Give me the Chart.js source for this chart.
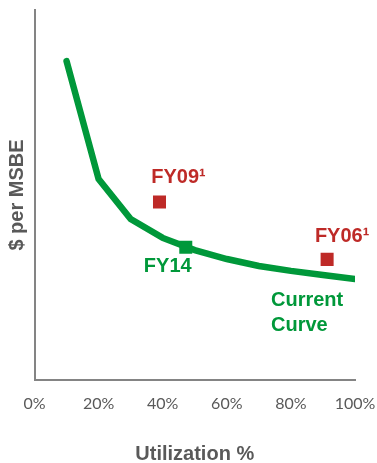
<!DOCTYPE html>
<html>
<head>
<meta charset="utf-8">
<style>
  html, body { margin: 0; padding: 0; background: #ffffff; }
  #wrap { width: 377px; height: 463px; }
</style>
<script src="https://cdn.jsdelivr.net/npm/chart.js@4/dist/chart.umd.min.js"></script>
</head>
<body>
<div id="wrap"><canvas id="chart" width="377" height="463"></canvas></div>
<script>
// Cost curve: $ per MSBE (relative units) against utilization %
const utilization = [10, 20, 30, 40, 50, 60, 70, 80, 90, 100];
const costPerMsbe = [86.2, 54.3, 43.5, 38.4, 35.1, 32.7, 30.8, 29.5, 28.4, 27.3];

// Single-year observations
const fy14Point = { x: 47.2, y: 35.9 };
const priorYears = ['FY09\u00B9', 'FY06\u00B9'];
const priorUtilization = [39, 91.3];
const priorCost = [48.1, 32.6];

// Axis tick values and titles
const xTicks = [0, 20, 40, 60, 80, 100];
const xTitle = 'Utilization %';
const yTitle = '$ per MSBE';
const curveLabel = ['Current', 'Curve'];

const GREEN = '#00983A';
const RED = '#BE2A27';
const GREY_TEXT = '#595959';
const AXIS_GREY = '#848484';
const LABEL_FONT = 'bold 20px "Liberation Sans", Arial, sans-serif';

// Draws the point annotations next to their markers
const annotationPlugin = {
  id: 'pointAnnotations',
  afterDatasetsDraw(chart) {
    const ctx = chart.ctx;
    ctx.save();
    ctx.font = LABEL_FONT;
    ctx.textBaseline = 'alphabetic';

    // prior-year labels above-right of each red square
    const prior = chart.getDatasetMeta(2).data;
    const priorOffsets = [[19, -26], [15, -25]];
    ctx.fillStyle = RED;
    ctx.textAlign = 'center';
    prior.forEach((pt, i) => {
      ctx.fillText(priorYears[i], pt.x + priorOffsets[i][0], pt.y + priorOffsets[i][1] + 7.2);
    });

    // FY14 label below-left of the green square
    const fy14 = chart.getDatasetMeta(1).data[0];
    ctx.fillStyle = GREEN;
    ctx.fillText('FY14', fy14.x - 18, fy14.y + 18 + 7.2);

    // curve name under the right end of the line
    const curve = chart.getDatasetMeta(0).data;
    const end = curve[curve.length - 1];
    ctx.textAlign = 'left';
    curveLabel.forEach((line, i) => {
      ctx.fillText(line, end.x - 84, end.y + 20 + i * 25 + 7.2);
    });
    ctx.restore();
  }
};

new Chart(document.getElementById('chart'), {
  type: 'scatter',
  data: {
    datasets: [
      {
        type: 'line',
        data: utilization.map((u, i) => ({ x: u, y: costPerMsbe[i] })),
        borderColor: GREEN,
        borderWidth: 6.5,
        borderCapStyle: 'round',
        borderJoinStyle: 'miter',
        pointRadius: 0,
        tension: 0,
        fill: false,
        order: 3
      },
      {
        data: [fy14Point],
        pointStyle: 'rect',
        pointRadius: 9.2,
        backgroundColor: GREEN,
        borderWidth: 0,
        order: 1
      },
      {
        data: priorUtilization.map((u, i) => ({ x: u, y: priorCost[i] })),
        pointStyle: 'rect',
        pointRadius: 9.2,
        backgroundColor: RED,
        borderWidth: 0,
        order: 2
      }
    ]
  },
  options: {
    responsive: false,
    devicePixelRatio: 1,
    animation: false,
    events: [],
    layout: { padding: { top: 10, right: 22, left: 0, bottom: 0 } },
    plugins: { legend: { display: false }, tooltip: { enabled: false } },
    scales: {
      x: {
        type: 'linear',
        min: 0,
        max: 100,
        afterBuildTicks(scale) {
          scale.ticks = xTicks.map(v => ({ value: v }));
        },
        ticks: {
          callback: v => v + '%',
          color: GREY_TEXT,
          font: { family: 'Lato', size: 16 },
          padding: 14,
          maxRotation: 0,
          autoSkip: false
        },
        grid: { display: true, drawOnChartArea: false, drawTicks: false },
        border: { color: AXIS_GREY, width: 2 },
        title: {
          display: true,
          text: xTitle,
          color: GREY_TEXT,
          font: { family: '"Liberation Sans", Arial, sans-serif', size: 20, weight: 'bold', lineHeight: 0.85 },
          padding: { top: 0, bottom: 0 }
        },
        afterFit(scale) {
          scale.height = 83;
          scale.paddingLeft = 0;
          scale.paddingRight = 0;
        }
      },
      y: {
        type: 'linear',
        min: 0,
        max: 100,
        ticks: { display: false },
        grid: { display: true, drawOnChartArea: false, drawTicks: false },
        border: { color: AXIS_GREY, width: 2 },
        title: {
          display: true,
          text: yTitle,
          color: GREY_TEXT,
          font: { family: '"Liberation Sans", Arial, sans-serif', size: 20, weight: 'bold', lineHeight: 1 },
          padding: { top: 7, bottom: 0 }
        },
        afterFit(scale) {
          scale.width = 34.5;
          scale.paddingTop = 0;
          scale.paddingBottom = 0;
        }
      }
    }
  },
  plugins: [annotationPlugin]
});
</script>
</body>
</html>
